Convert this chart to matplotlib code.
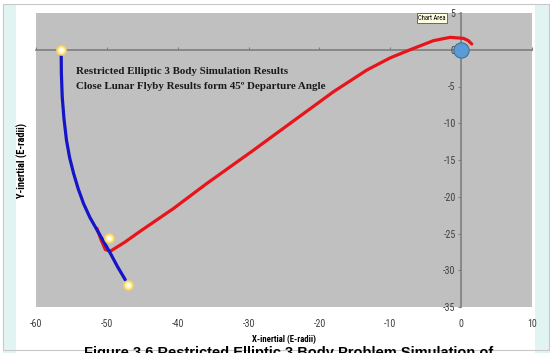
import matplotlib.pyplot as plt
from matplotlib.patches import Rectangle

# trajectory (Earth radii)
blue_x = [-56.45, -56.42, -56.3, -56.05, -55.7, -55.25, -54.7, -54.05, -53.3, -52.4, -51.4, -50.45, -49.5, -48.5, -47.4]
blue_y = [0.0, -3.2, -6.4, -9.4, -12.3, -14.7, -16.8, -18.9, -20.9, -22.8, -24.5, -26.1, -27.7, -29.5, -31.3]

red_x = [-51.4, -50.8, -50.2, -49.5, -47.5, -45.3, -40.6, -35.9, -29.5, -23.4, -18.0, -13.3, -10.0,
         -7.2, -3.9, -1.55, 0.33, 1.0, 1.5]
red_y = [-24.3, -25.9, -27.2, -27.4, -26.2, -24.7, -21.6, -18.2, -13.8, -9.5, -5.7, -2.76, -1.1,
         0.0, 1.24, 1.69, 1.55, 1.25, 0.78]

dots_x = [-56.45, -49.7, -47.0]
dots_y = [0.0, -25.6, -32.0]

body_x = [0.0]
body_y = [0.0]

xticks = [-60, -50, -40, -30, -20, -10, 0, 10]
yticks = [5, 0, -5, -10, -15, -20, -25, -30, -35]

title1 = "Restricted Elliptic 3 Body Simulation Results"
title2 = "Close Lunar Flyby Results form 45\u00ba Departure Angle"

fig = plt.figure(figsize=(5.5, 3.53), dpi=100)
W, H = 550, 353

# outer frame like the spreadsheet window
fig.patches.append(Rectangle((3 / W, 0), 13 / W, 1 - 4 / H, transform=fig.transFigure,
                             facecolor='#e2f4f2', edgecolor='none', zorder=-2))
fig.patches.append(Rectangle((535 / W, 0), 15 / W, 1 - 4 / H, transform=fig.transFigure,
                             facecolor='#e2f4f2', edgecolor='none', zorder=-2))
fig.patches.append(Rectangle((3 / W, 3 / H), 546 / W, 1 - 7 / H, transform=fig.transFigure,
                             facecolor='none', edgecolor='#c8c8c8', lw=0.8, zorder=-1))

ax = fig.add_axes([36 / W, 1 - 307 / H, 496 / W, 294 / H])
ax.set_facecolor('#c0c0c0')
ax.set_xlim(-60, 10)
ax.set_ylim(-35, 5)

tick_font = ['Liberation Sans Narrow', 'DejaVu Sans Condensed', 'Roboto Condensed', 'DejaVu Sans']

# y axis crosses at x = 0
for s in ['top', 'right', 'bottom']:
    ax.spines[s].set_visible(False)
ax.spines['left'].set_position(('data', 0))
ax.spines['left'].set_color('#7f7f7f')
ax.spines['left'].set_linewidth(1.2)
ax.set_yticks(yticks)
ax.set_yticklabels([str(t) for t in yticks], family=tick_font, fontsize=7.2, color='#404040')
ax.tick_params(axis='y', direction='out', length=2.5, color='#7f7f7f', pad=1.5)

# x tick labels sit below the plot area
ax.set_xticks(xticks)
ax.set_xticklabels([str(t) for t in xticks], family=tick_font, fontsize=7.2, color='#404040')
ax.tick_params(axis='x', length=0, pad=8.5)

# x axis line at y = 0
sec = ax.secondary_xaxis(0, transform=ax.transData)
sec.spines['bottom'].set_color('#7f7f7f')
sec.spines['bottom'].set_linewidth(1.2)
sec.set_xticks(xticks)
sec.tick_params(axis='x', direction='in', length=2.5, color='#7f7f7f', labelbottom=False)

ax.plot(red_x, red_y, color='#e8141a', lw=2.3, solid_capstyle='round', zorder=3)
ax.plot(blue_x, blue_y, color='#1414c8', lw=2.3, solid_capstyle='round', zorder=4)
ax.plot(dots_x, dots_y, 'o', ms=6.5, mfc='#fff3a0', mec='#f6d36a', mew=1.2, zorder=5)
ax.plot(dots_x, dots_y, 'o', ms=3, mfc='white', mec='none', zorder=6)
ax.plot(body_x, body_y, 'o', ms=11, mfc='#5b9bd5', mec='#41719c', mew=0.8, zorder=6, clip_on=False)

ax.text(-54.3, -3.0, title1, family=['Liberation Serif', 'DejaVu Serif'], fontweight='bold',
        fontsize=7.9, color='#1a1a1a', va='center')
ax.text(-54.3, -4.95, title2, family=['Liberation Serif', 'DejaVu Serif'], fontweight='bold',
        fontsize=7.9, color='#1a1a1a', va='center')

fig.text(284 / W, 1 - 339 / H, "X-inertial (E-radii)", family=tick_font, fontweight='bold',
         fontsize=6.3, ha='center', va='center')
fig.text(22 / W, 1 - 160 / H, "Y-inertial (E-radii)", family=tick_font, fontweight='bold',
         fontsize=7.5, ha='center', va='center', rotation=90)

fig.text(432 / W, 1 - 18 / H, "Chart Area", family=tick_font, fontsize=4.8, ha='center', va='center',
         bbox=dict(boxstyle='square,pad=0.2', facecolor='#ffffe1', edgecolor='#555555', lw=0.6))

fig.text(289 / W, 1 - 346 / H, "Figure 3.6 Restricted Elliptic 3 Body Problem Simulation of",
         family=['Liberation Sans', 'DejaVu Sans'], fontweight='bold', fontsize=10.5,
         ha='center', va='top')

fig.savefig('out.png', dpi=100)
